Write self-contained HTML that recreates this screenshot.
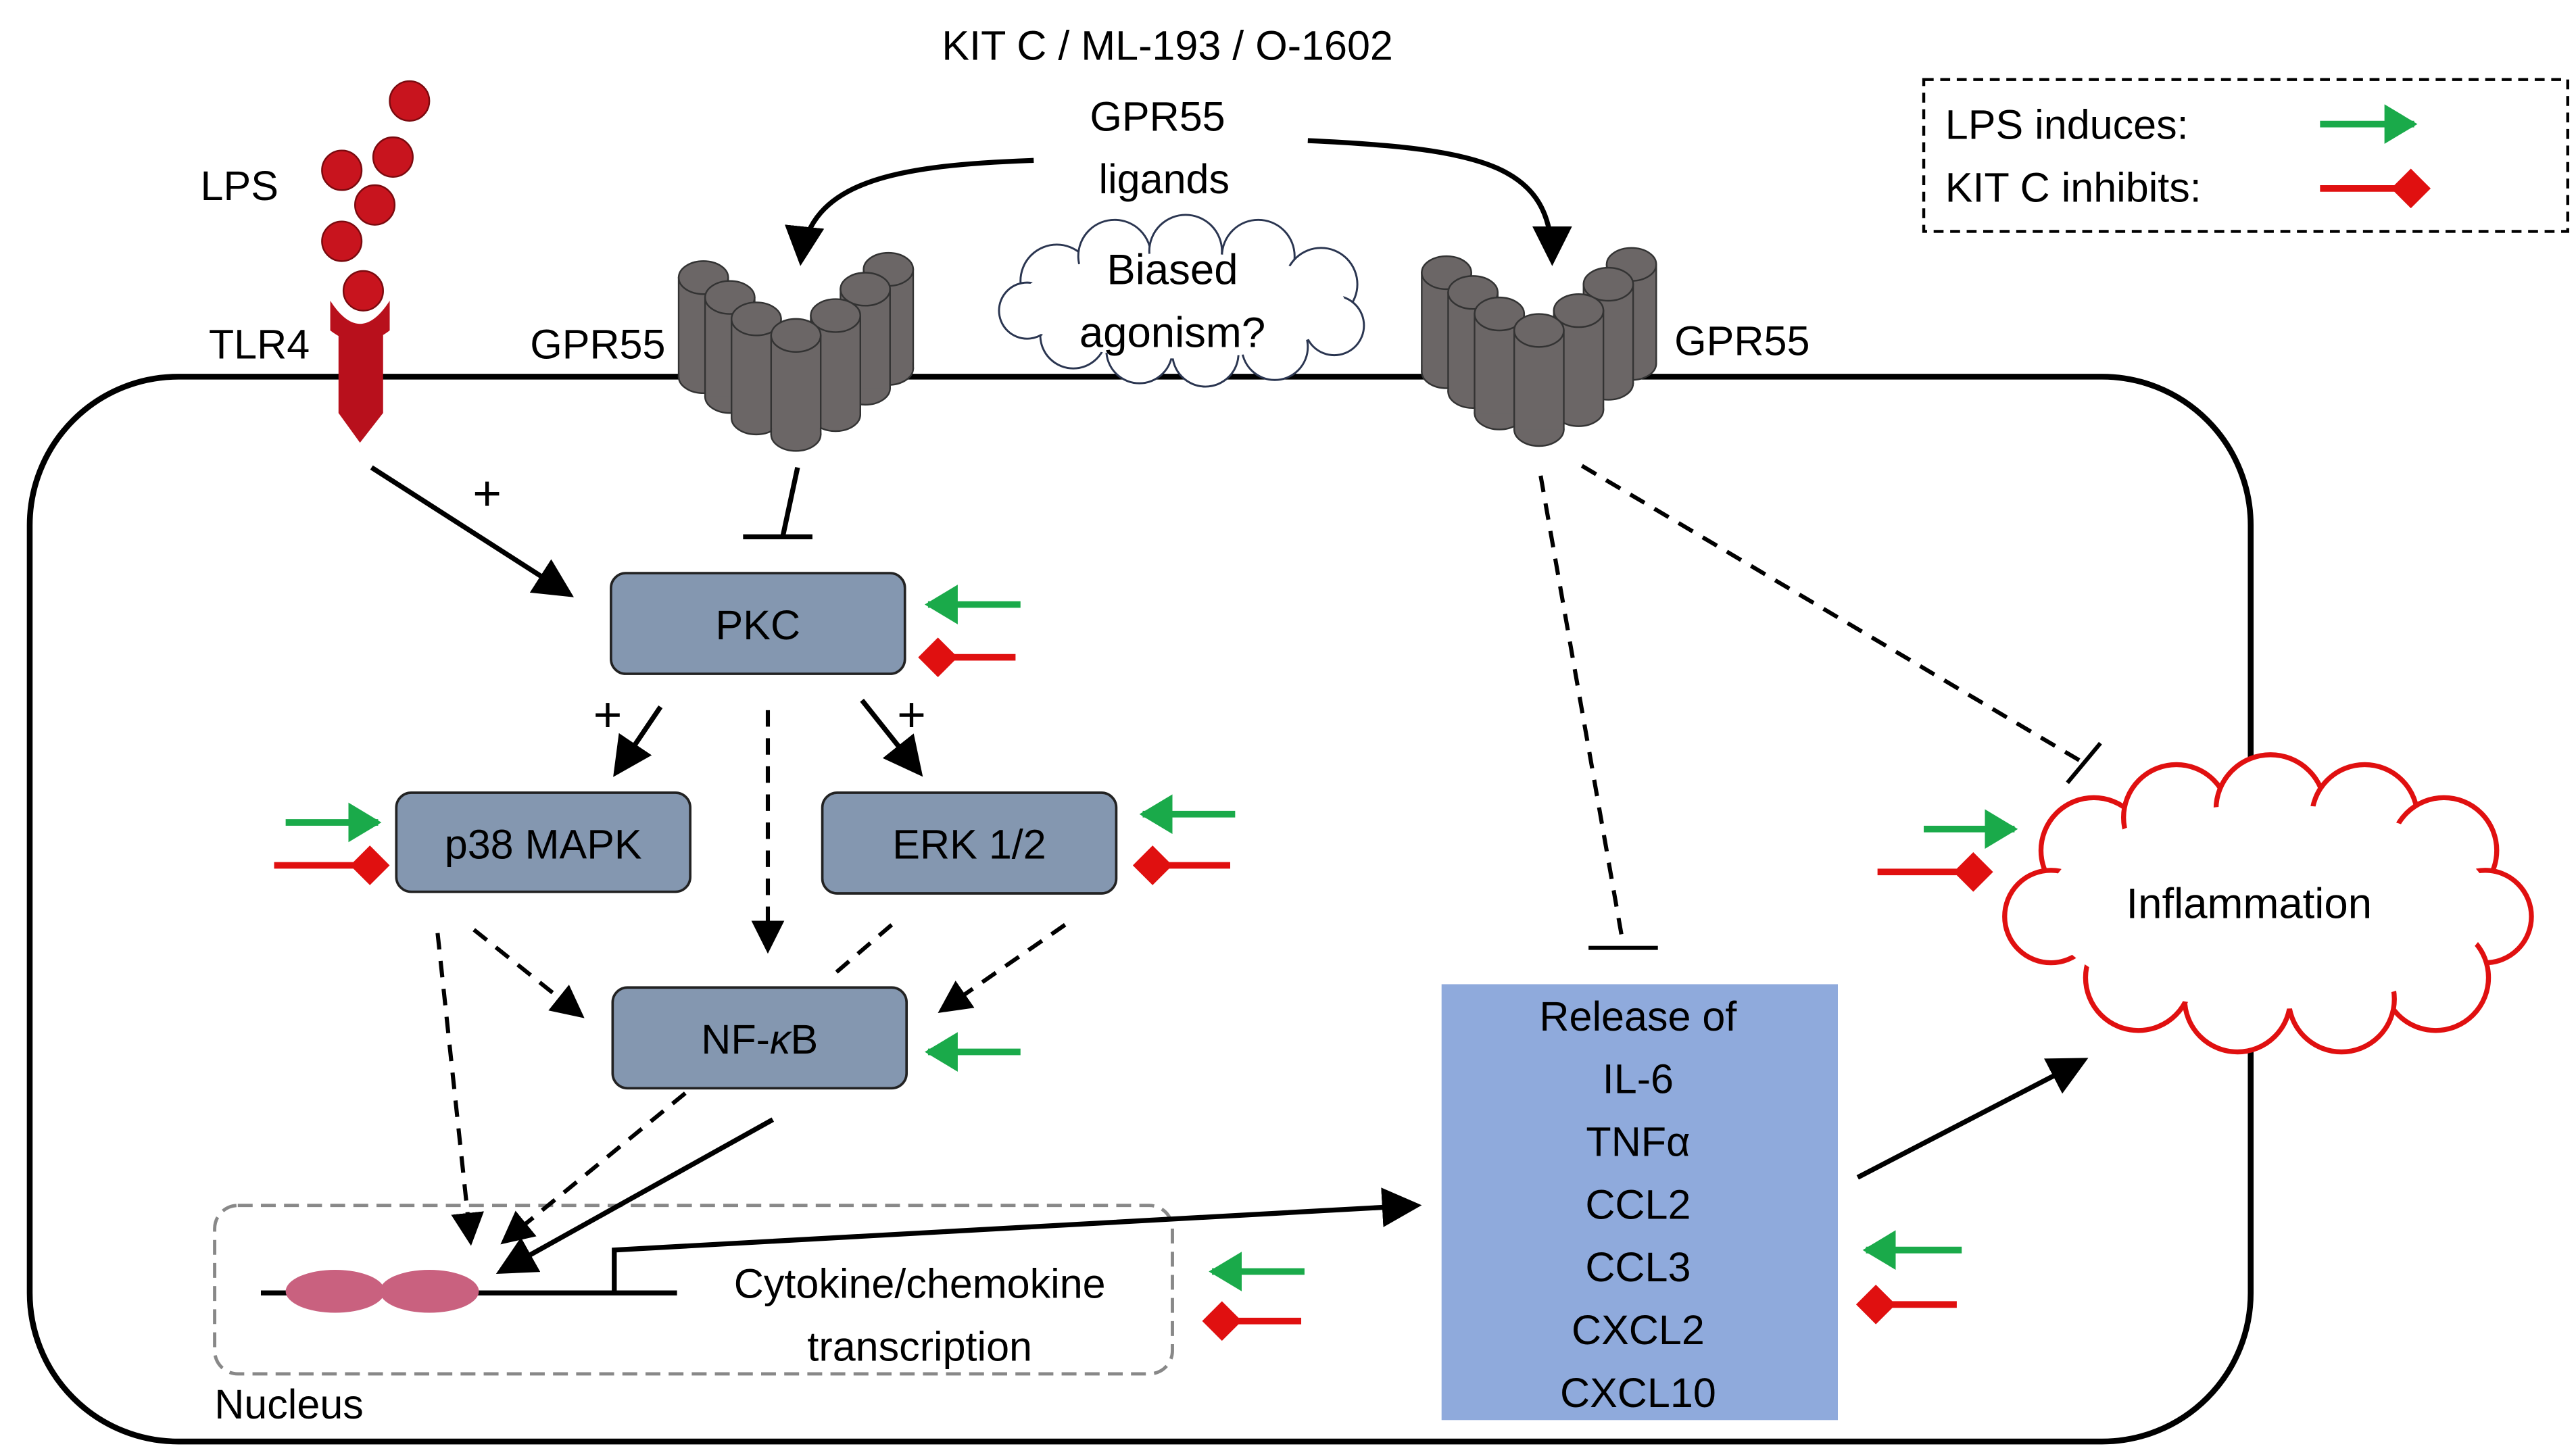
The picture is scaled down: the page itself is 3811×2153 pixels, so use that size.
<!DOCTYPE html>
<html><head><meta charset="utf-8"><style>
html,body{margin:0;padding:0;background:#fff;}
svg{display:block;}
text{font-family:"Liberation Sans",sans-serif;font-size:25px;fill:#000;text-anchor:middle;}
</style></head><body>
<svg width="3811" height="2153" viewBox="0 0 1560 881" xmlns="http://www.w3.org/2000/svg">
<defs>
<marker id="ab" markerWidth="8" markerHeight="8" refX="7" refY="4" orient="auto" markerUnits="strokeWidth"><path d="M0,0 L8,4 L0,8 z" fill="#000"/></marker>
<marker id="ag" markerWidth="5" markerHeight="6" refX="4.5" refY="3" orient="auto" markerUnits="strokeWidth"><path d="M0,0 L5,3 L0,6 z" fill="#1aaa4a"/></marker>
<marker id="ar" markerWidth="6" markerHeight="6" refX="5" refY="3" orient="auto" markerUnits="strokeWidth"><path d="M0,3 L3,0 L6,3 L3,6 z" fill="#e01010"/></marker>
<g id="cyl"><rect x="-15" y="0" width="30" height="60" fill="#6b6666" stroke="#333" stroke-width="1"/><ellipse cx="0" cy="60" rx="15" ry="10" fill="#6b6666" stroke="#333" stroke-width="1"/><rect x="-14.5" y="1" width="29" height="59" fill="#6b6666"/><ellipse cx="0" cy="0" rx="15" ry="10" fill="#6b6666" stroke="#333" stroke-width="1"/></g>
<g id="rec">
<use href="#cyl" x="-56" y="-45"/><use href="#cyl" x="56" y="-50"/>
<use href="#cyl" x="-40" y="-33"/><use href="#cyl" x="42" y="-38"/>
<use href="#cyl" x="-24" y="-20"/><use href="#cyl" x="24" y="-22"/>
<use href="#cyl" x="0" y="-10"/>
</g>
</defs>

<rect x="18" y="228" width="1345" height="645" rx="90" fill="none" stroke="#000" stroke-width="3.5"/>

<text x="707" y="36">KIT C / ML-193 / O-1602</text>
<text x="701" y="79">GPR55</text>
<text x="705" y="117">ligands</text>
<path d="M626,97 C540,100 490,110 485,158" fill="none" stroke="#000" stroke-width="3" marker-end="url(#ab)"/>
<path d="M792,85 C900,90 940,100 940,158" fill="none" stroke="#000" stroke-width="3" marker-end="url(#ab)"/>

<g stroke="#2a3550" stroke-width="1.2" fill="#fff">
<circle cx="640" cy="170" r="22"/><circle cx="675" cy="155" r="22"/><circle cx="718" cy="152" r="22"/><circle cx="762" cy="155" r="22"/><circle cx="800" cy="172" r="22"/><circle cx="808" cy="197" r="18"/><circle cx="772" cy="210" r="20"/><circle cx="730" cy="214" r="20"/><circle cx="690" cy="212" r="20"/><circle cx="650" cy="203" r="20"/><circle cx="622" cy="188" r="17"/>
</g>
<ellipse cx="715" cy="185" rx="100" ry="32" fill="#fff"/>
<text x="710" y="172" style="font-size:26px">Biased</text>
<text x="710" y="210" style="font-size:26px">agonism?</text>

<use href="#rec" x="482" y="213"/>
<use href="#rec" x="932" y="210"/>
<text x="362" y="217">GPR55</text>
<text x="1055" y="215">GPR55</text>

<text x="145" y="121">LPS</text>
<g fill="#c8141e" stroke="#7a0a0f" stroke-width="1">
<circle cx="248" cy="61" r="12"/><circle cx="207" cy="103" r="12"/><circle cx="238" cy="95" r="12"/><circle cx="227" cy="124" r="12"/><circle cx="207" cy="146" r="12"/><circle cx="220" cy="176" r="12"/>
</g>
<text x="157" y="217">TLR4</text>
<path d="M200,182 Q218,210 236,182 L236,200 Q218,214 200,200 z" fill="#b8101c"/>
<path d="M205,200 L232,200 L232,250 L218,268 L205,250 z" fill="#b8101c"/>

<rect x="1165" y="48" width="390" height="92" fill="none" stroke="#000" stroke-width="1.8" stroke-dasharray="6,4"/>
<text x="1178" y="84" style="text-anchor:start">LPS induces:</text>
<text x="1178" y="122" style="text-anchor:start">KIT C inhibits:</text>
<line x1="1405" y1="75" x2="1462" y2="75" stroke="#1aaa4a" stroke-width="4" marker-end="url(#ag)"/>
<line x1="1405" y1="114" x2="1468" y2="114" stroke="#e01010" stroke-width="4" marker-end="url(#ar)"/>

<g fill="#8497b0" stroke="#222" stroke-width="1.5">
<rect x="370" y="347" width="178" height="61" rx="9"/>
<rect x="240" y="480" width="178" height="60" rx="9"/>
<rect x="498" y="480" width="178" height="61" rx="9"/>
<rect x="371" y="598" width="178" height="61" rx="9"/>
</g>
<text x="459" y="387">PKC</text>
<text x="329" y="520">p38 MAPK</text>
<text x="587" y="520">ERK 1/2</text>
<text x="460" y="638">NF-<tspan font-style="italic">κ</tspan>B</text>

<rect x="873" y="596" width="240" height="264" fill="#8faadc"/>
<text x="992" y="624">Release of</text><text x="992" y="662">IL-6</text><text x="992" y="700">TNFα</text><text x="992" y="738">CCL2</text><text x="992" y="776">CCL3</text><text x="992" y="814">CXCL2</text><text x="992" y="852">CXCL10</text>

<g stroke="#e01010" stroke-width="3" fill="#fff">
<circle cx="1268" cy="515" r="32"/><circle cx="1318" cy="495" r="32"/><circle cx="1375" cy="490" r="33"/><circle cx="1432" cy="495" r="32"/><circle cx="1480" cy="515" r="32"/><circle cx="1505" cy="555" r="28"/><circle cx="1475" cy="592" r="32"/><circle cx="1418" cy="605" r="32"/><circle cx="1355" cy="605" r="32"/><circle cx="1295" cy="592" r="32"/><circle cx="1242" cy="555" r="28"/>
</g>
<ellipse cx="1374" cy="549" rx="135" ry="62" fill="#fff"/>
<text x="1362" y="556" style="font-size:26px">Inflammation</text>

<rect x="130" y="730" width="580" height="102" rx="14" fill="none" stroke="#888" stroke-width="2" stroke-dasharray="9,5"/>
<text x="175" y="859">Nucleus</text>
<line x1="158" y1="783" x2="410" y2="783" stroke="#000" stroke-width="3"/>
<ellipse cx="203" cy="782" rx="30" ry="13" fill="#c9617f"/>
<ellipse cx="260" cy="782" rx="30" ry="13" fill="#c9617f"/>
<path d="M372,783 L372,757 L858,730" fill="none" stroke="#000" stroke-width="3" marker-end="url(#ab)"/>
<text x="557" y="786">Cytokine/chemokine</text>
<text x="557" y="824">transcription</text>

<g stroke="#000" stroke-width="3" fill="none">
<line x1="225" y1="283" x2="345" y2="360" marker-end="url(#ab)"/>
<line x1="483" y1="283" x2="474" y2="325"/>
<line x1="450" y1="325" x2="492" y2="325"/>
<line x1="400" y1="428" x2="373" y2="468" marker-end="url(#ab)"/>
<line x1="522" y1="424" x2="557" y2="468" marker-end="url(#ab)"/>
<line x1="468" y1="678" x2="303" y2="770" marker-end="url(#ab)"/>
<line x1="1125" y1="713" x2="1262" y2="642" marker-end="url(#ab)"/>
</g>
<g stroke="#000" stroke-width="2.5" fill="none" stroke-dasharray="10,7">
<line x1="465" y1="430" x2="465" y2="575" marker-end="url(#ab)"/>
<line x1="287" y1="563" x2="352" y2="615" marker-end="url(#ab)"/>
<line x1="645" y1="560" x2="570" y2="612" marker-end="url(#ab)"/>
<line x1="540" y1="560" x2="505" y2="590"/>
<line x1="265" y1="565" x2="285" y2="752" marker-end="url(#ab)"/>
<line x1="415" y1="662" x2="305" y2="752" marker-end="url(#ab)"/>
<line x1="933" y1="288" x2="983" y2="572"/>
<line x1="958" y1="282" x2="1262" y2="462"/>
</g>
<g stroke="#000" stroke-width="2.5">
<line x1="962" y1="574" x2="1004" y2="574"/>
<line x1="1252" y1="474" x2="1272" y2="450"/>
</g>
<text x="295" y="309" style="font-size:30px">+</text>
<text x="368" y="443" style="font-size:30px">+</text>
<text x="552" y="443" style="font-size:30px">+</text>

<g stroke-width="4">
<line x1="618" y1="366" x2="562" y2="366" stroke="#1aaa4a" marker-end="url(#ag)"/>
<line x1="615" y1="398" x2="560" y2="398" stroke="#e01010" marker-end="url(#ar)"/>
<line x1="173" y1="498" x2="229" y2="498" stroke="#1aaa4a" marker-end="url(#ag)"/>
<line x1="166" y1="524" x2="232" y2="524" stroke="#e01010" marker-end="url(#ar)"/>
<line x1="748" y1="493" x2="692" y2="493" stroke="#1aaa4a" marker-end="url(#ag)"/>
<line x1="745" y1="524" x2="690" y2="524" stroke="#e01010" marker-end="url(#ar)"/>
<line x1="618" y1="637" x2="562" y2="637" stroke="#1aaa4a" marker-end="url(#ag)"/>
<line x1="790" y1="770" x2="734" y2="770" stroke="#1aaa4a" marker-end="url(#ag)"/>
<line x1="788" y1="800" x2="732" y2="800" stroke="#e01010" marker-end="url(#ar)"/>
<line x1="1188" y1="757" x2="1130" y2="757" stroke="#1aaa4a" marker-end="url(#ag)"/>
<line x1="1185" y1="790" x2="1128" y2="790" stroke="#e01010" marker-end="url(#ar)"/>
<line x1="1165" y1="502" x2="1220" y2="502" stroke="#1aaa4a" marker-end="url(#ag)"/>
<line x1="1137" y1="528" x2="1203" y2="528" stroke="#e01010" marker-end="url(#ar)"/>
</g>
</svg>
</body></html>
